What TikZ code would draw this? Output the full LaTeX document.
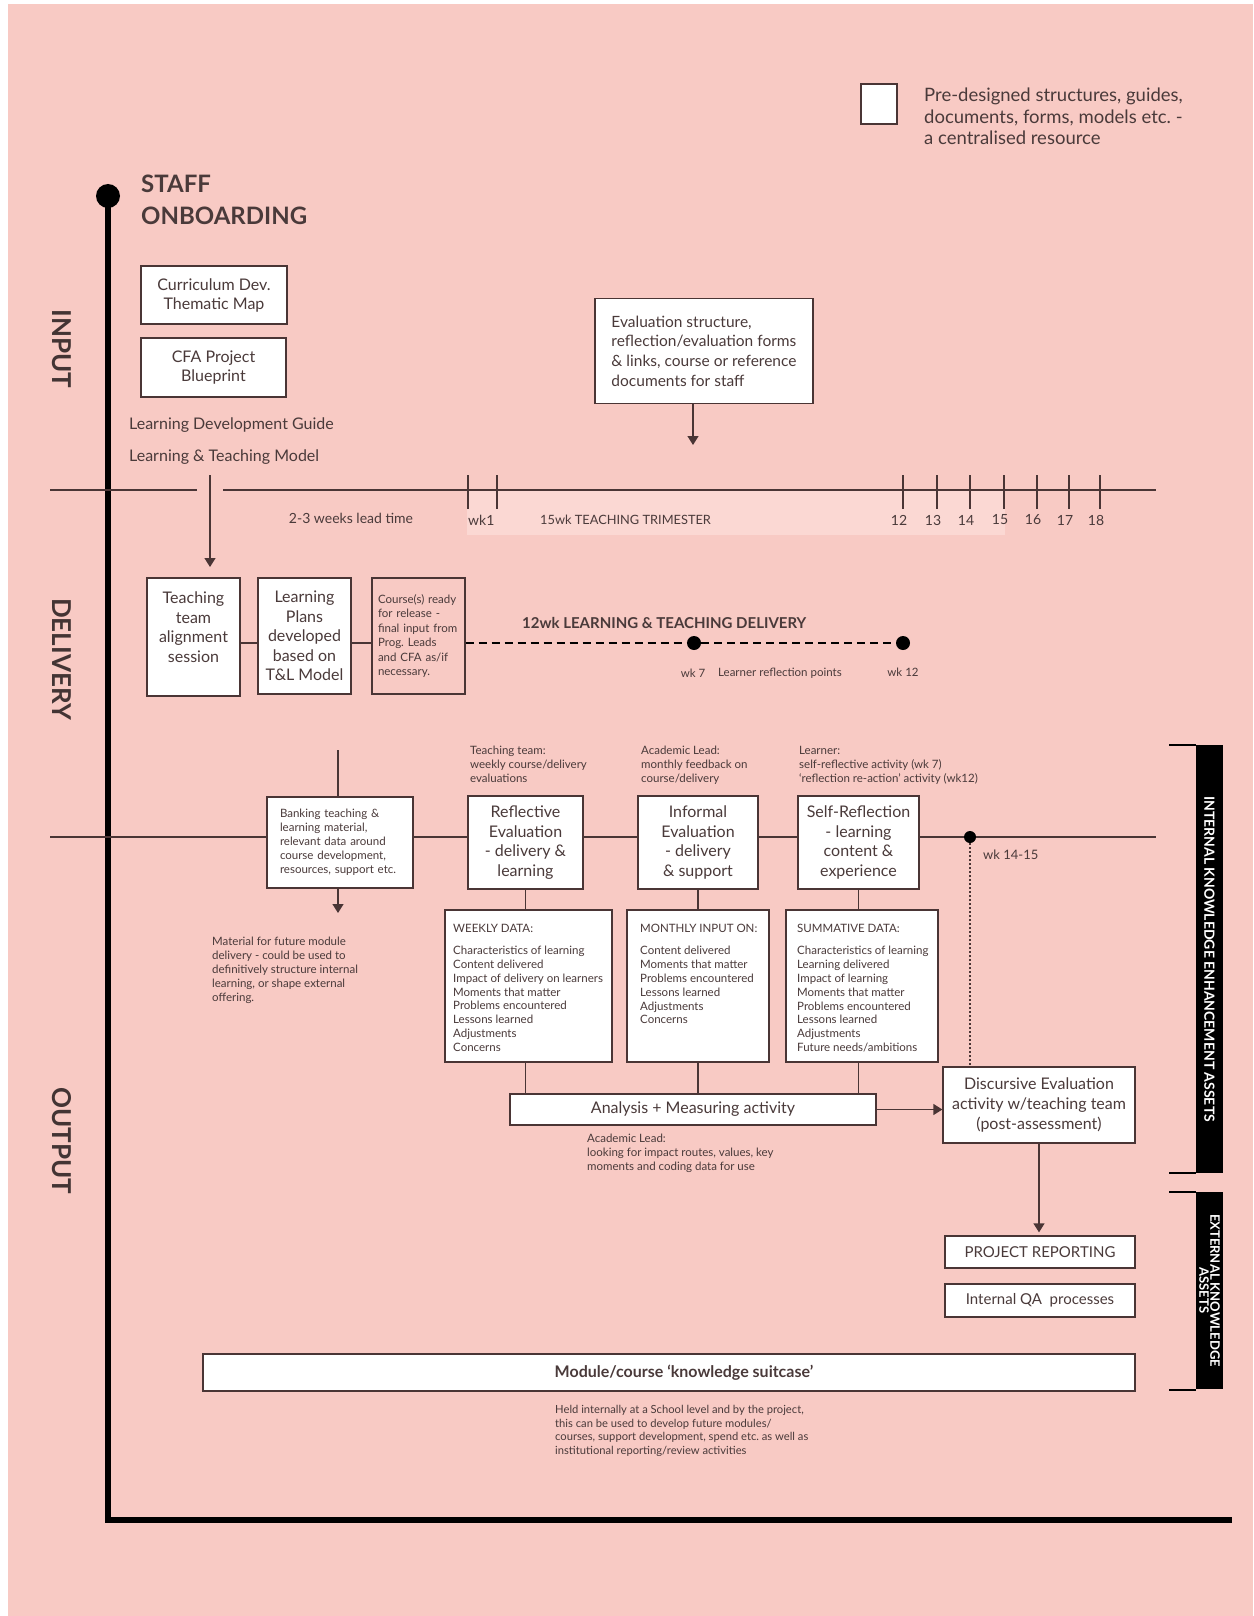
\documentclass[tikz,border=0pt]{standalone}
\usepackage{fontspec}
\setmainfont{Lato}
\usetikzlibrary{arrows.meta}
\definecolor{bgpink}{HTML}{F8CAC4}
\definecolor{bandpink}{HTML}{FBD8D3}
\definecolor{ink}{HTML}{4A3A3A}
\definecolor{edge}{HTML}{4A3535}
\newcommand{\szXL}{\fontsize{24}{32}\selectfont}
\newcommand{\szPh}{\fontsize{26}{26}\selectfont}
\newcommand{\szL}{\fontsize{16}{19.6}\selectfont}
\newcommand{\szM}{\fontsize{14}{17}\selectfont}
\newcommand{\szS}{\fontsize{11.5}{13.9}\selectfont}
\newcommand{\szXS}{\fontsize{11.2}{13.7}\selectfont}
\frenchspacing
\tikzset{
  wbox/.style={draw=edge, fill=white, line width=1.3pt, inner sep=0pt, align=center, text=ink, font=\szL},
  txt/.style={text=ink, inner sep=0pt, align=left},
  conn/.style={draw=edge, line width=1.3pt},
  arr/.style={conn, -{Triangle[length=9pt,width=11pt]}},
  tickmark/.style={draw=edge, line width=1.3pt},
  phaselabel/.style={txt, rotate=-90, font=\bfseries\szPh, text=ink!90!black},
  assetbar/.style={fill=black, text=white, rotate=-90, inner sep=0pt, align=center, font=\bfseries\fontsize{14}{11.5}\selectfont},
  wkdot/.style={circle, fill=black, inner sep=0pt, minimum size=14pt},
}
\begin{document}
\begin{tikzpicture}[x=1pt,y=-1pt]
\useasboundingbox (0,0) rectangle (1253,1616);
\fill[white] (0,0) rectangle (1253,1616);
\fill[bgpink] (8,4) rectangle (1253,1616);

\node[circle, fill=black, inner sep=0pt, minimum size=24pt] (onboard) at (108,196) {};
\coordinate (corner) at (108,1520);
\coordinate (axisend) at (1232,1520);
\draw[line width=5.5pt] (onboard.center) -- (corner) -- (axisend);
\node[txt, anchor=north west, font=\bfseries\szXL] (staff) at (141,175) {STAFF\\ONBOARDING};

\node[phaselabel] (input) at (62,349) {INPUT};
\node[phaselabel] (delivery) at (62,659) {DELIVERY};
\node[phaselabel] (output) at (62,1141) {OUTPUT};

\node[wbox, minimum width=36, minimum height=40] (legend) at (879,104) {};
\node[txt, anchor=north west, font=\fontsize{18.5}{21.5}\selectfont] (legendtxt) at (924,88) {Pre-designed structures, guides,\\documents, forms, models etc. -\\a centralised resource};

\node[wbox, minimum width=146, minimum height=58, font=\fontsize{16}{19}\selectfont] (curric) at (214,295) {Curriculum Dev.\\Thematic Map};
\node[wbox, minimum width=145, minimum height=59, font=\fontsize{16}{19}\selectfont] (cfa) at (213.5,367.5) {CFA Project\\Blueprint};
\node[txt, anchor=west, font=\szL] (ldg) at (129,425) {Learning Development Guide};
\node[txt, anchor=west, font=\szL] (ltm) at (129,457) {Learning \& Teaching Model};

\node[wbox, minimum width=218, minimum height=105, align=left, font=\fontsize{15.5}{19.6}\selectfont] (evalstr) at (704,351) {Evaluation structure,\\reflection/evaluation forms\\\& links, course or reference\\documents for staff};
\coordinate (evaltip) at (693,445);
\draw[arr] (evaltip |- evalstr.south) -- (evaltip);

\fill[bandpink] (467,490) rectangle (1005,535);
\coordinate (tl0) at (50,490);
\coordinate (tl1) at (197,490);
\coordinate (tl2) at (223,490);
\coordinate (tl3) at (1156,490);
\draw[edge, line width=1.8pt] (tl0) -- (tl1) (tl2) -- (tl3);
\foreach \x in {468,497,903,937,970,1004,1037,1069,1100}
  \draw[tickmark] (\x,475) -- (\x,509);
\foreach \x/\n in {903/12,937/13,970/14,1004/15,1037/16,1069/17,1100/18}
  \node[txt, font=\szM] (wk\n) at (\x-4,520) {\n};
\node[txt, font=\szM] (leadtime) at (351,518) {2-3 weeks lead time};
\node[txt, anchor=west, font=\szM] (wk1) at (468,520) {wk1};
\node[txt, anchor=west, font=\fontsize{12.8}{15}\selectfont] (trimester) at (540,520) {15wk TEACHING TRIMESTER};

\coordinate (leadtop) at (210,475);
\coordinate (leadtip) at (210,567);
\draw[arr] (leadtop) -- (leadtip);

\node[wbox, minimum width=93, minimum height=118] (team) at (193.5,637) {Teaching\\team\\alignment\\session\\{}};
\node[wbox, minimum width=93, minimum height=116] (plans) at (304.5,636) {Learning\\Plans\\developed\\based on\\T\&L Model};
\node[wbox, fill=bgpink, minimum width=93, minimum height=116, text width=81, align=left, font=\fontsize{11.5}{14.4}\selectfont] (ready) at (418.5,636) {Course(s) ready\\for release -\\final input from\\Prog. Leads\\and CFA as/if\\necessary.\\[3pt]{}};
\coordinate (dl) at (0,643);
\draw[conn] (team.east |- dl) -- (plans.west |- dl);
\draw[conn] (plans.east |- dl) -- (ready.west |- dl);
\node[wkdot] (wk7) at (694,643) {};
\node[wkdot] (wk12) at (903,643) {};
\draw[line width=2.8pt, dash pattern=on 8pt off 5pt] (ready.east |- dl) -- (wk7) -- (wk12);
\node[txt, anchor=west, font=\bfseries\fontsize{15}{18}\selectfont] (deliv) at (522,623) {12wk LEARNING \& TEACHING DELIVERY};
\node[txt, font=\szS] (wk7lbl) at (693,673) {wk 7};
\node[txt, anchor=west, font=\szS] (reflpts) at (718,673) {Learner reflection points};
\node[txt, font=\szS] (wk12lbl) at (903,672) {wk 12};

\coordinate (ol0) at (50,837);
\coordinate (ol1) at (1156,837);
\draw[edge, line width=1.8pt] (ol0) -- (ol1);

\node[wbox, minimum width=146, minimum height=91, text width=120, align=left, font=\szS] (bank) at (340,842.5) {Banking teaching \&\\learning material,\\relevant data around\\course development,\\resources, support etc.};
\coordinate (bankin) at (338,750);
\coordinate (bankout) at (338,913);
\draw[conn] (bankin) -- (bankin |- bank.north);
\draw[arr] (bankin |- bank.south) -- (bankout);
\node[txt, anchor=north west, font=\szS] (future) at (212,937) {Material for future module\\delivery - could be used to\\definitively structure internal\\learning, or shape external\\offering.};

\node[txt, anchor=north west, font=\szS] (teamnote) at (470,746) {Teaching team:\\weekly course/delivery\\evaluations};
\node[txt, anchor=north west, font=\szS] (leadnote) at (641,746) {Academic Lead:\\monthly feedback on\\course/delivery};
\node[txt, anchor=north west, font=\szS] (learnnote) at (799,746) {Learner:\\self-reflective activity (wk 7)\\‘reflection re-action’ activity (wk12)};

\node[wbox, minimum width=115, minimum height=93] (refl) at (525.5,842.5) {Reflective\\Evaluation\\- delivery \&\\learning};
\node[wbox, minimum width=120, minimum height=93] (informal) at (698,842.5) {Informal\\Evaluation\\- delivery\\\& support};
\node[wbox, minimum width=121, minimum height=93] (selfrefl) at (858.5,842.5) {Self-Reflection\\- learning\\content \&\\experience};

\node[wbox, minimum width=167, minimum height=152] (wkdata) at (528.5,986) {};
\node[wbox, minimum width=142, minimum height=152] (mondata) at (698,986) {};
\node[wbox, minimum width=152, minimum height=152] (sumdata) at (862,986) {};
\node[txt, anchor=north west, font=\szS] (wktxt) at (453,924) {WEEKLY DATA:\\[8pt]Characteristics of learning\\Content delivered\\Impact of delivery on learners\\Moments that matter\\Problems encountered\\Lessons learned\\Adjustments\\Concerns};
\node[txt, anchor=north west, font=\szS] (montxt) at (640,924) {MONTHLY INPUT ON:\\[8pt]Content delivered\\Moments that matter\\Problems encountered\\Lessons learned\\Adjustments\\Concerns};
\node[txt, anchor=north west, font=\szS] (sumtxt) at (797,924) {SUMMATIVE DATA:\\[8pt]Characteristics of learning\\Learning delivered\\Impact of learning\\Moments that matter\\Problems encountered\\Lessons learned\\Adjustments\\Future needs/ambitions};

\node[wkdot, minimum size=12pt] (wk1415) at (970,837) {};
\node[txt, anchor=west, font=\fontsize{13}{15}\selectfont] (wk1415lbl) at (983,855) {wk 14-15};

\node[wbox, minimum width=192, minimum height=76] (disc) at (1039,1105) {Discursive Evaluation\\activity w/teaching team\\(post-assessment)};
\draw[edge, line width=1.3pt, dash pattern=on 2pt off 2pt] (wk1415) -- (wk1415 |- disc.north);

\node[wbox, minimum width=366, minimum height=31] (analysis) at (693,1109.5) {Analysis + Measuring activity};
\draw[arr] (analysis.east) -- (analysis.east -| disc.west);
\draw[conn] (refl.south) -- (refl.south |- wkdata.north);
\draw[conn] (informal.south) -- (informal.south |- mondata.north);
\draw[conn] (selfrefl.south) -- (selfrefl.south |- sumdata.north);
\draw[conn] (refl.south |- wkdata.south) -- (refl.south |- analysis.north);
\draw[conn] (informal.south |- mondata.south) -- (informal.south |- analysis.north);
\draw[conn] (selfrefl.south |- sumdata.south) -- (selfrefl.south |- analysis.north);
\node[txt, anchor=north west, font=\szS] (leadnote2) at (587,1134) {Academic Lead:\\looking for impact routes, values, key\\moments and coding data for use};

\node[wbox, minimum width=190, minimum height=32, font=\fontsize{15}{18}\selectfont] (report) at (1040,1252) {PROJECT REPORTING};
\node[wbox, minimum width=190, minimum height=33, font=\fontsize{15}{18}\selectfont] (qa) at (1040,1300.5) {Internal QA\ \ processes};
\draw[arr, shorten >=3pt] (disc.south) -- (disc.south |- report.north);

\node[wbox, minimum width=932, minimum height=37, font=\bfseries\fontsize{16}{18}\selectfont] (suitcase) at (669,1372.5) {\hspace*{30pt}Module/course ‘knowledge suitcase’};
\node[txt, anchor=north west, font=\szXS] (held) at (555,1405) {Held internally at a School level and by the project,\\this can be used to develop future modules/\\courses, support development, spend etc. as well as\\institutional reporting/review activities};

\node[assetbar, minimum width=428, minimum height=27] (intbar) at (1209.5,959) {INTERNAL KNOWLEDGE ENHANCEMENT ASSETS};
\coordinate (inttop) at (1169,745);
\coordinate (intbot) at (1169,1173);
\draw[line width=2pt] (inttop) -- (inttop -| intbar.south);
\draw[line width=2pt] (intbot) -- (intbot -| intbar.south);
\node[assetbar, minimum width=197, minimum height=27, font=\bfseries\fontsize{13}{11}\selectfont] (extbar) at (1209.5,1290.5) {EXTERNAL KNOWLEDGE\\ASSETS};
\coordinate (exttop) at (1169,1192);
\coordinate (extbot) at (1169,1390);
\draw[line width=2pt] (exttop) -- (exttop -| extbar.south);
\draw[line width=2pt] (extbot) -- (extbot -| extbar.south);
\end{tikzpicture}
\end{document}
